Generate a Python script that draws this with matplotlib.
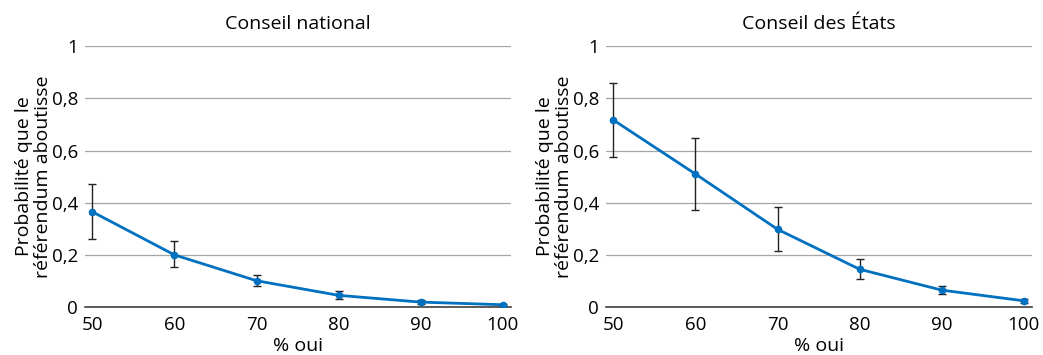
import matplotlib.pyplot as plt

# data
pct_oui = [50, 60, 70, 80, 90, 100]

cn_prob = [0.365, 0.200, 0.101, 0.045, 0.019, 0.009]
cn_low = [0.260, 0.152, 0.079, 0.031, 0.013, 0.005]
cn_high = [0.472, 0.255, 0.122, 0.060, 0.026, 0.013]

ce_prob = [0.717, 0.510, 0.298, 0.145, 0.065, 0.024]
ce_low = [0.574, 0.372, 0.214, 0.107, 0.051, 0.017]
ce_high = [0.857, 0.649, 0.383, 0.184, 0.079, 0.032]

titles = ["Conseil national", "Conseil des États"]
y_ticks = [0, 0.2, 0.4, 0.6, 0.8, 1]
y_tick_labels = ["0", "0,2", "0,4", "0,6", "0,8", "1"]
x_ticks = [50, 60, 70, 80, 90, 100]

plt.rcParams['font.family'] = ['Open Sans', 'DejaVu Sans']
blue = '#0070c0'

fig = plt.figure(figsize=(10.43, 3.55), dpi=100)
ax1 = fig.add_axes([0.0815, 0.135, 0.408, 0.735])
ax2 = fig.add_axes([0.581, 0.135, 0.408, 0.735])

series = [(cn_prob, cn_low, cn_high), (ce_prob, ce_low, ce_high)]
for ax, title, (p, lo, hi) in zip([ax1, ax2], titles, series):
    yerr = [[a - b for a, b in zip(p, lo)], [b - a for a, b in zip(p, hi)]]
    ax.errorbar(pct_oui, p, yerr=yerr, fmt='none', ecolor='#222222',
                elinewidth=1, capsize=3, capthick=1, zorder=3)
    ax.plot(pct_oui, p, color=blue, lw=2, marker='o', ms=4.5, zorder=4)
    ax.set_xlim(49.1, 100.95)
    ax.set_ylim(0, 1)
    ax.set_yticks(y_ticks)
    ax.set_yticklabels(y_tick_labels)
    ax.set_xticks(x_ticks)
    ax.grid(axis='y', color='#a6a6a6', lw=0.9)
    ax.set_axisbelow(True)
    for s in ['top', 'right', 'left']:
        ax.spines[s].set_visible(False)
    ax.spines['bottom'].set_color('#404040')
    ax.spines['bottom'].set_linewidth(1.2)
    ax.tick_params(length=0, labelsize=13.5)
    ax.tick_params(axis='x', pad=6.5)
    ax.tick_params(axis='y', pad=5)
    ax.set_title(title, fontsize=14, pad=12.5)
    ax.set_xlabel("% oui", fontsize=14, labelpad=2)
    ax.set_ylabel("Probabilité que le\nréférendum aboutisse", fontsize=14,
                  linespacing=1.05, labelpad=0)

fig.savefig("out.png", dpi=100)
